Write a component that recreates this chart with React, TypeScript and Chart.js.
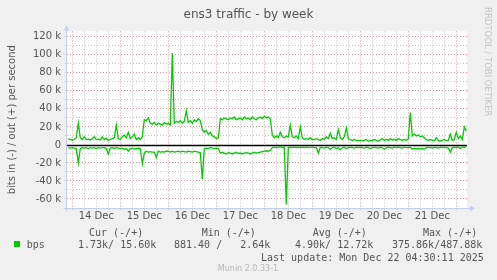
import React, { useEffect, useRef } from 'react';
import { Chart, registerables } from 'chart.js';

Chart.register(...registerables);

// ---- data (kbit/s, hourly samples starting 2 h before 14 Dec 00:00) ----
const START_HOUR = -2;
const dayLabels = ['14 Dec', '15 Dec', '16 Dec', '17 Dec', '18 Dec', '19 Dec', '20 Dec', '21 Dec'];

const outPre = [7, 6];
const outDec14 = [5.5, 6, 8, 24, 8, 6, 9, 6, 6.5, 5.5, 7, 9, 6, 6.5, 5.5, 9, 6, 7.5, 5, 6, 7, 8, 22, 7];
const outDec15 = [6, 9, 11, 8, 14, 7, 9, 12, 6, 8, 6, 9, 28, 27, 30, 24, 23, 25, 22, 24, 23, 22, 25, 23];
const outDec16 = [24, 22, 102, 24, 26, 25, 27, 24, 26, 38, 25, 27, 24, 28, 26, 29, 27, 17, 14, 16, 12, 14, 10, 9];
const outDec17 = [7, 8, 29, 28, 30, 29, 28, 30, 29, 31, 28, 29, 30, 28, 31, 29, 30, 28, 31, 29, 28, 30, 31, 29];
const outDec18 = [32, 30, 31, 29, 11, 8, 10, 8, 14, 9, 8, 10, 9, 22, 9, 8, 10, 7, 20, 8, 6, 7, 6, 8];
const outDec19 = [6, 6, 7, 6, 5, 7, 6, 9, 7, 13, 7, 8, 6, 17, 8, 6, 9, 19, 7, 6, 5, 6, 5, 5];
const outDec20 = [5, 4.5, 5, 6, 4, 5, 4.5, 6, 5, 4, 5.5, 7, 5, 6, 5, 7, 5.5, 6, 5, 7, 6, 5, 6, 5];
const outDec21 = [7, 36, 10, 12, 10, 11, 9, 10, 8, 6, 5, 6, 5, 4.5, 8, 5, 4, 5, 6, 4.5, 5, 12, 5, 6];
const outDec22 = [14, 7, 10, 6, 20, 15.6];

const inPre = [-3, -3.5];
const inDec14 = [-3, -3.5, -4, -20, -4, -3, -3.5, -3, -4, -3, -3.5, -3, -4, -3, -3.5, -3, -3, -4, -10, -3.5, -3, -4, -3, -3.5];
const inDec15 = [-4, -3.5, -5, -4, -7, -4, -3.5, -4.5, -4, -3.5, -4, -21, -9, -7, -8, -7.5, -8, -8, -14, -7, -8, -7.5, -8, -7];
const inDec16 = [-7, -8, -7, -8, -7.5, -7, -8, -7, -7.5, -8, -7, -7.5, -8, -7, -7.5, -8, -8.5, -38, -4, -3.5, -4, -3, -3.5, -4];
const inDec17 = [-3.5, -4, -9, -8, -9, -10, -8.5, -9, -10, -9, -8, -9.5, -9, -10, -9, -8.5, -9, -10, -9, -8, -9, -8.5, -8, -7.5];
const inDec18 = [-7, -6.5, -7, -6, -3, -2.5, -3, -2.5, -2, -3, -2.5, -66, -3, -2.5, -3, -2.5, -3, -2.5, -3, -2.5, -3, -2.5, -3, -2.5];
const inDec19 = [-2.5, -3, -3, -9, -2.5, -3, -3.5, -2.5, -3, -5, -3, -2.5, -4, -3, -5.5, -3, -2.5, -4, -3, -2.5, -3, -3.5, -2.5, -3];
const inDec20 = [-2.5, -3, -3.5, -2.5, -3, -4, -3, -2.5, -3, -3.5, -2.5, -3, -5, -3, -2.5, -3, -3.5, -2.5, -3, -2.5, -3, -3.5, -2.5, -3];
const inDec21 = [-3, -2.5, -4.5, -4, -4.5, -4, -4.5, -4, -4.5, -3, -2.5, -3, -3.5, -2.5, -3, -3.5, -2.5, -3, -2.5, -3, -3.5, -8, -3, -2.5];
const inDec22 = [-3, -2.5, -4, -2, -3, -1.73];

const outValues = [...outPre, ...outDec14, ...outDec15, ...outDec16, ...outDec17, ...outDec18, ...outDec19, ...outDec20, ...outDec21, ...outDec22];
const inValues = [...inPre, ...inDec14, ...inDec15, ...inDec16, ...inDec17, ...inDec18, ...inDec19, ...inDec20, ...inDec21, ...inDec22];

const yTickValues = [-60, -50, -40, -30, -20, -10, 0, 10, 20, 30, 40, 50, 60, 70, 80, 90, 100, 110, 120];
const xTickHours = [0, 6, 12, 18, 24, 30, 36, 42, 48, 54, 60, 66, 72, 78, 84, 90, 96, 102, 108, 114, 120, 126, 132, 138, 144, 150, 156, 162, 168, 174, 180, 186, 192];

const chartTitle = 'ens3 traffic - by week';
const legendName = 'bps';
const legendHeaders = ['Cur (-/+)', 'Min (-/+)', 'Avg (-/+)', 'Max (-/+)'];
const legendValues = ['1.73k/ 15.60k', '881.40 /   2.64k', '4.90k/ 12.72k', '375.86k/487.88k'];
const lastUpdate = 'Last update: Mon Dec 22 04:30:11 2025';
const footer = 'Munin 2.0.33-1';
const watermark = 'RRDTOOL / TOBI OETIKER';

const GREEN = '#00cc00';
const MAJOR = 'rgba(226,140,140,0.9)';
const MINOR = 'rgba(190,190,190,0.9)';
const AXIS = '#c4ccf4';
const TEXT = '#555555';

function toPoints(vals: number[]) {
  return vals.map((v, i) => ({ x: START_HOUR + i, y: v }));
}

export default function App() {
  const ref = useRef<HTMLCanvasElement | null>(null);

  useEffect(() => {
    document.body.style.margin = '0';
    const canvas = ref.current;
    if (!canvas) return;

    const bgPlugin = {
      id: 'muninBg',
      beforeDraw(chart: any) {
        const { ctx, chartArea } = chart;
        ctx.save();
        ctx.fillStyle = '#f0f0f0';
        ctx.fillRect(0, 0, chart.width, chart.height);
        ctx.fillStyle = '#ffffff';
        ctx.fillRect(chartArea.left, chartArea.top, chartArea.right - chartArea.left, chartArea.bottom - chartArea.top);
        ctx.restore();
      },
      beforeDatasetsDraw(chart: any) {
        const { ctx, chartArea } = chart;
        const y0 = Math.round(chart.scales.y.getPixelForValue(0)) + 0.5;
        ctx.save();
        ctx.strokeStyle = '#000000';
        ctx.lineWidth = 1.5;
        ctx.beginPath();
        ctx.moveTo(chartArea.left, y0);
        ctx.lineTo(chartArea.right, y0);
        ctx.stroke();
        ctx.restore();
      },
      afterDraw(chart: any) {
        const { ctx, chartArea } = chart;
        const { left, right, top, bottom } = chartArea;
        const bx = Math.round(left) - 0.5;
        const by = Math.round(bottom) + 0.5;
        ctx.save();
        ctx.strokeStyle = AXIS;
        ctx.fillStyle = AXIS;
        ctx.lineWidth = 1;
        ctx.beginPath();
        ctx.moveTo(bx - 3, by);
        ctx.lineTo(right + 3, by);
        ctx.moveTo(bx, by + 3);
        ctx.lineTo(bx, top - 1);
        ctx.stroke();
        ctx.beginPath();
        ctx.moveTo(right + 3, by - 3);
        ctx.lineTo(right + 8, by);
        ctx.lineTo(right + 3, by + 3);
        ctx.closePath();
        ctx.fill();
        ctx.beginPath();
        ctx.moveTo(bx - 3, top - 1);
        ctx.lineTo(bx, top - 6);
        ctx.lineTo(bx + 3, top - 1);
        ctx.closePath();
        ctx.fill();
        ctx.restore();
      },
    };

    const chart = new Chart(canvas, {
      type: 'line',
      data: {
        datasets: [
          {
            label: 'out',
            data: toPoints(outValues),
            borderColor: GREEN,
            borderWidth: 1.3,
            pointRadius: 0,
            tension: 0,
            fill: false,
          },
          {
            label: 'in',
            data: toPoints(inValues),
            borderColor: GREEN,
            borderWidth: 1.3,
            pointRadius: 0,
            tension: 0,
            fill: false,
          },
        ],
      },
      options: {
        responsive: false,
        animation: false,
        parsing: false as any,
        layout: { padding: { left: 0, right: 30, top: 31.4, bottom: 52 } },
        plugins: {
          legend: { display: false },
          tooltip: { enabled: false },
          title: { display: false },
        },
        scales: {
          x: {
            type: 'linear',
            min: -2.65,
            max: 197.35,
            afterBuildTicks: (scale: any) => {
              scale.ticks = xTickHours.map((h) => ({ value: h }));
            },
            afterFit: (scale: any) => {
              scale.height = 20;
            },
            ticks: {
              autoSkip: false,
              maxRotation: 0,
              padding: 0,
              color: TEXT,
              font: { family: 'DejaVu Sans', size: 10 },
              callback: (value: any) => {
                const v = Number(value);
                return v % 24 === 12 ? dayLabels[(v - 12) / 24] : '';
              },
            },
            grid: {
              drawTicks: true,
              tickLength: 2,
              tickColor: AXIS,
              lineWidth: 1,
              color: (ctx: any) => {
                const v = ctx.tick ? ctx.tick.value : 0;
                return v % 24 === 0 ? MAJOR : MINOR;
              },
            },
            border: { display: false, dash: [1, 2] },
          },
          y: {
            type: 'linear',
            min: -70,
            max: 126,
            afterBuildTicks: (scale: any) => {
              scale.ticks = yTickValues.map((v) => ({ value: v }));
            },
            afterFit: (scale: any) => {
              scale.width = 67;
            },
            title: {
              display: true,
              text: 'bits in (-) / out (+) per second',
              color: TEXT,
              font: { family: 'DejaVu Sans', size: 10 },
              padding: { top: 6, bottom: 0 },
            },
            ticks: {
              autoSkip: false,
              padding: 4,
              color: TEXT,
              font: { family: 'DejaVu Sans', size: 10 },
              callback: (value: any) => {
                const v = Number(value);
                if (v % 20 !== 0) return '';
                return v === 0 ? '0' : `${v} k`;
              },
            },
            grid: {
              drawTicks: true,
              tickLength: 2,
              tickColor: AXIS,
              lineWidth: 1,
              color: (ctx: any) => {
                const v = ctx.tick ? ctx.tick.value : 1;
                if (v === 0) return 'rgba(0,0,0,0)';
                return v % 20 === 0 ? MAJOR : MINOR;
              },
            },
            border: { display: false, dash: [1, 2] },
          },
        },
      } as any,
      plugins: [bgPlugin as any],
    });

    return () => chart.destroy();
  }, []);

  const mono: React.CSSProperties = {
    position: 'absolute',
    fontFamily: "'DejaVu Sans Mono', monospace",
    fontSize: 10,
    lineHeight: '12px',
    color: TEXT,
    whiteSpace: 'pre',
  };
  const headerX = [89, 201.7, 312.7, 423];
  const valueX = [78, 174, 295, 392];

  return (
    <div style={{ position: 'fixed', left: 0, top: 0, width: 497, height: 280, overflow: 'hidden', background: '#f0f0f0' }}>
      <canvas ref={ref} width={497} height={280} style={{ display: 'block', width: 497, height: 280 }} />
      <div
        style={{
          position: 'absolute',
          left: 0,
          top: 6.5,
          width: 497,
          textAlign: 'center',
          fontFamily: "'DejaVu Sans', sans-serif",
          fontSize: 12,
          lineHeight: '14px',
          color: TEXT,
          whiteSpace: 'pre',
        }}
      >
        {chartTitle}
      </div>
      {legendHeaders.map((h, i) => (
        <div key={'h' + i} style={{ ...mono, left: headerX[i], top: 227 }}>{h}</div>
      ))}
      <div style={{ position: 'absolute', left: 14, top: 241, width: 6, height: 6, background: GREEN }} />
      <div style={{ ...mono, left: 26.7, top: 239 }}>{legendName}</div>
      {legendValues.map((v, i) => (
        <div key={'v' + i} style={{ ...mono, left: valueX[i], top: 239 }}>{v}</div>
      ))}
      <div style={{ ...mono, left: 261, top: 251.7 }}>{lastUpdate}</div>
      <div
        style={{
          position: 'absolute',
          left: 248,
          top: 264,
          transform: 'translateX(-50%)',
          fontFamily: "'DejaVu Sans', sans-serif",
          fontSize: 8,
          lineHeight: '10px',
          color: '#b8b8b8',
          whiteSpace: 'pre',
        }}
      >
        {footer}
      </div>
      <div
        style={{
          position: 'absolute',
          left: 483,
          top: 7,
          width: 10,
          writingMode: 'vertical-rl',
          fontFamily: "'DejaVu Sans', sans-serif",
          fontSize: 8.5,
          lineHeight: '10px',
          color: '#c4c4c4',
          whiteSpace: 'pre',
        }}
      >
        {watermark}
      </div>
    </div>
  );
}
